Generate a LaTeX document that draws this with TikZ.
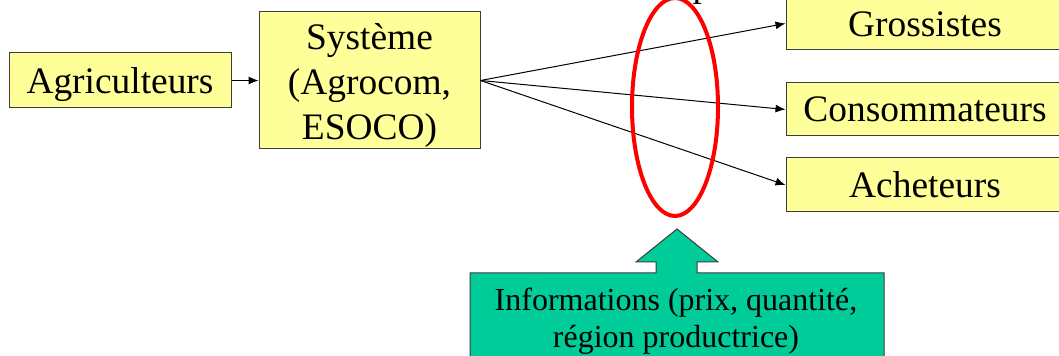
\documentclass[tikz,border=0pt]{standalone}
\usepackage{fontspec}
\setmainfont{Liberation Serif}
\usepackage{tikz}
\usetikzlibrary{positioning}
\usetikzlibrary{arrows.meta}

\definecolor{boxyellow}{RGB}{255,255,153}
\definecolor{infogreen}{RGB}{0,204,153}
\definecolor{edgegray}{RGB}{60,60,60}

\tikzset{
  actor/.style={draw=edgegray, line width=0.5pt, fill=boxyellow, inner sep=0pt,
    align=center, font=\fontsize{18.7}{22.7}\selectfont,
    text height=15.7pt, text depth=2.5pt},
  flow/.style={-{Latex[length=5pt,width=4pt]}, line width=0.5pt},
}

\begin{document}
\begin{tikzpicture}[x=0.5pt, y=-0.5pt]
    \useasboundingbox (0,0) rectangle (1059,356);

    % acteurs
    \node [actor, minimum width=111pt, minimum height=27.5pt] (agri) at (120,80.5) {Agriculteurs};
    \node [actor, minimum width=110.5pt, minimum height=68.5pt, text height=62pt] (sys) at (369.5,80.5) {Syst\`eme\\(Agrocom,\\ESOCO)};
    \node [actor, minimum width=139pt, minimum height=26.5pt] (gros) at (925,23.5) {Grossistes};
    \node [actor, minimum width=139pt, minimum height=26.5pt, text height=15pt] (cons) at (925,109.5) {Consommateurs};
    \node [actor, minimum width=139pt, minimum height=27pt, text height=15pt] (ach) at (925,185) {Acheteurs};
    \node [font=\fontsize{18.7}{22.7}\selectfont, anchor=base, inner sep=0pt] (cut) at (702,-3) {p};

    \draw [flow] (agri) -- (sys);
    \draw [flow] (sys.east) -- (gros.west);
    \draw [flow] (sys.east) -- (cons.west);
    \draw [flow] (sys.east) -- (ach.west);

    % ellipse
    \draw [red, line width=2pt] (675,107) ellipse [x radius=21.5pt, y radius=54.5pt];

    % fleche d'information
    \draw [fill=infogreen, draw=edgegray, line width=0.5pt]
      (470,362) -- (470,273) -- (656,273) -- (656,262) -- (636,262) -- (677,229)
      -- (718,262) -- (697,262) -- (697,273) -- (884,273) -- (884,362) -- cycle;
    \node [align=center, font=\fontsize{16}{18.5}\selectfont, inner sep=0pt, anchor=base] (info) at (676,348)
      {Informations (prix, quantit\'e,\\r\'egion productrice)};
\end{tikzpicture}
\end{document}
